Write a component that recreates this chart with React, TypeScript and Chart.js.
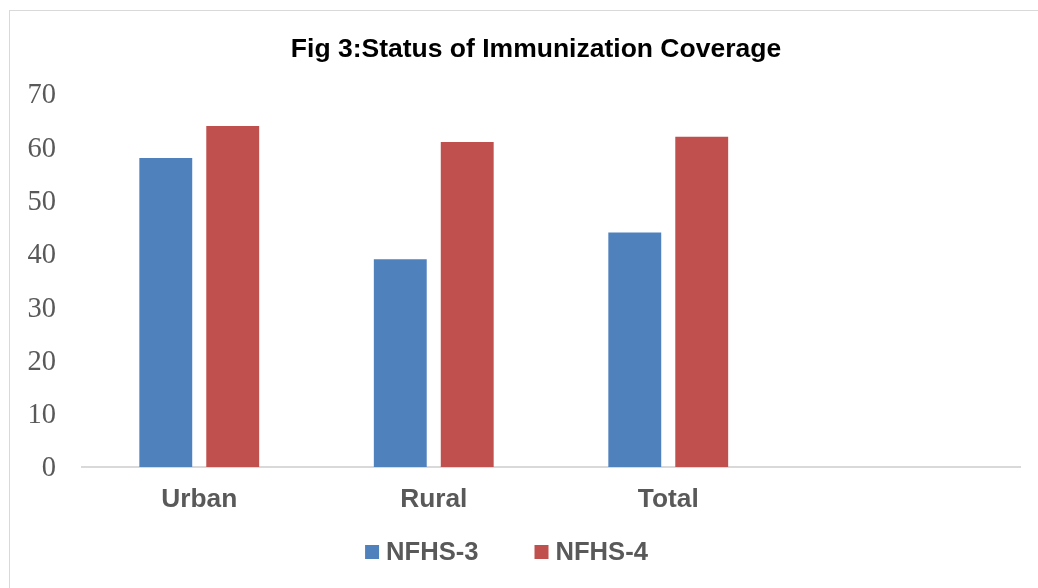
import React, { useEffect, useRef } from "react";
import { Chart, registerables } from "chart.js";

Chart.register(...registerables);

const categories = ["Urban", "Rural", "Total", ""];
const nfhs3 = [58, 39, 44, null];
const nfhs4 = [64, 61, 62, null];
const seriesNames = ["NFHS-3", "NFHS-4"];
const yTicks = [0, 10, 20, 30, 40, 50, 60, 70];
const titleText = "Fig 3:Status of Immunization Coverage";

const BLUE = "#4F81BD";
const RED = "#C0504D";
const GRAY = "#595959";

const titleLegendPlugin = {
  id: "titleLegend",
  afterDraw(chart: any) {
    const ctx = chart.ctx;
    ctx.save();
    // title
    ctx.font = "bold 26.5px 'Liberation Sans', Arial, sans-serif";
    ctx.fillStyle = "#000000";
    ctx.textAlign = "center";
    ctx.textBaseline = "middle";
    ctx.fillText(titleText, 536, 50);
    // legend
    ctx.font = "bold 25.6px 'Liberation Sans', Arial, sans-serif";
    const box = 14;
    const gap = 7;
    const spacing = 56;
    const items = chart.data.datasets.map((d: any) => ({
      label: d.label,
      color: d.backgroundColor,
      w: box + gap + ctx.measureText(d.label).width,
    }));
    const total =
      items.reduce((s: number, it: any) => s + it.w, 0) + spacing * (items.length - 1);
    let x = 506.5 - total / 2;
    const cy = 552;
    ctx.textAlign = "left";
    for (const it of items) {
      ctx.fillStyle = it.color;
      ctx.fillRect(x, cy - box / 2, box, box);
      ctx.fillStyle = GRAY;
      ctx.fillText(it.label, x + box + gap, cy + 1);
      x += it.w + spacing;
    }
    ctx.restore();
  },
};

export default function App() {
  const ref = useRef<HTMLCanvasElement>(null);

  useEffect(() => {
    const canvas = ref.current;
    if (!canvas) return;
    const chart = new Chart(canvas, {
      type: "bar",
      data: {
        labels: categories,
        datasets: [
          {
            label: seriesNames[0],
            data: nfhs3,
            backgroundColor: BLUE,
            categoryPercentage: 0.571,
            barPercentage: 0.79,
          },
          {
            label: seriesNames[1],
            data: nfhs4,
            backgroundColor: RED,
            categoryPercentage: 0.571,
            barPercentage: 0.79,
          },
        ],
      },
      options: {
        responsive: false,
        animation: false,
        layout: { padding: { top: 94, right: 18, bottom: 0, left: 0 } },
        plugins: {
          legend: { display: false },
          title: { display: false },
          tooltip: { enabled: false },
        },
        scales: {
          x: {
            grid: { display: false, drawTicks: false, tickLength: 0 },
            border: { display: true, color: "#d9d9d9", width: 2 },
            ticks: {
              color: GRAY,
              padding: 17,
              font: { family: "'Liberation Sans', Arial, sans-serif", size: 26.3, weight: "bold" },
            },
            afterFit(scale: any) {
              scale.height = 121;
            },
          },
          y: {
            min: 0,
            max: 70,
            afterBuildTicks(scale: any) {
              scale.ticks = yTicks.map((v) => ({ value: v }));
            },
            grid: { display: false, drawTicks: false, tickLength: 0 },
            border: { display: false },
            ticks: {
              color: GRAY,
              padding: 26,
              labelOffset: 2,
              font: { family: "'Liberation Serif', 'Times New Roman', serif", size: 28.5 },
            },
            afterFit(scale: any) {
              scale.width = 82;
            },
          },
        },
      },
      plugins: [titleLegendPlugin],
    } as any);
    return () => chart.destroy();
  }, []);

  return (
    <div
      style={{
        position: "fixed",
        left: 0,
        top: 0,
        width: 1038,
        height: 588,
        overflow: "hidden",
        background: "#ffffff",
      }}
    >
      <div
        style={{
          position: "absolute",
          left: 9,
          top: 10,
          width: 1100,
          height: 700,
          border: "1px solid #d9d9d9",
        }}
      />
      <canvas
        ref={ref}
        width={1038}
        height={588}
        style={{ position: "absolute", left: 0, top: 0, width: 1038, height: 588 }}
      />
    </div>
  );
}
